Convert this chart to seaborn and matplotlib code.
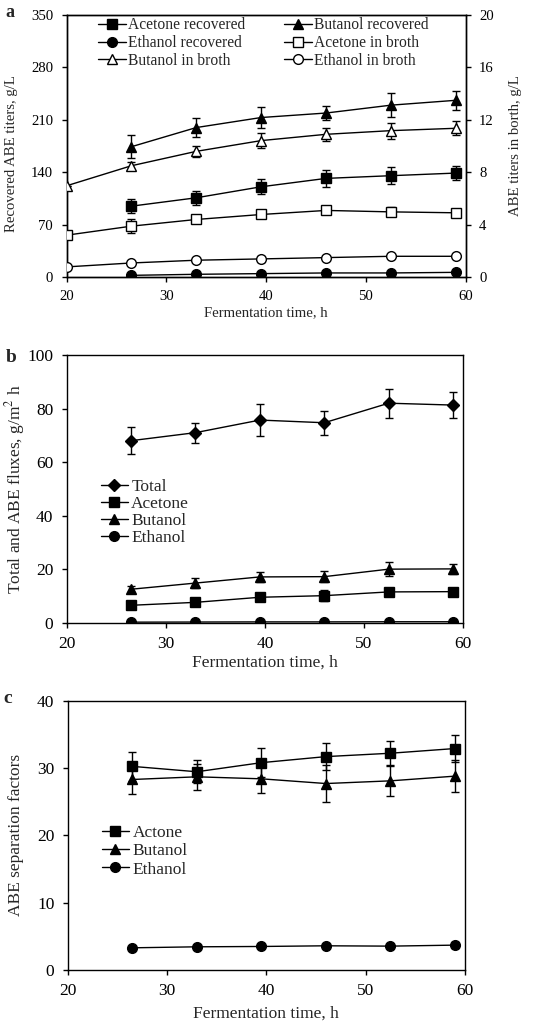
import numpy as np
import pandas as pd
import matplotlib
matplotlib.use("Agg")
import matplotlib.pyplot as plt
import seaborn as sns

sns.set_theme(style="ticks")
plt.rcParams['font.family'] = ['Liberation Serif', 'DejaVu Serif']
plt.rcParams['mathtext.fontset'] = 'stix'

# ---------------- data ----------------
time_a = [20, 26.5, 33, 39.5, 46, 52.5, 59]
time_r = [26.5, 33, 39.5, 46, 52.5, 59]

# panel a: recovered (left axis, g/L)
acetone_rec = [94.6, 105.8, 120.5, 131.7, 135.3, 138.8]
acetone_rec_err = [9.6, 9.0, 10.0, 11.6, 11.0, 9.0]
butanol_rec = [174, 199.6, 213, 219, 229.5, 236]
butanol_rec_err = [15, 13, 14.5, 9, 16, 13]
ethanol_rec = [2.2, 3.6, 4.5, 5.4, 5.4, 6.2]
ethanol_rec_err = [0.5, 0.5, 0.5, 0.5, 0.5, 0.5]
# panel a: in broth (right axis, g/L)
acetone_broth = [3.19, 3.88, 4.39, 4.77, 5.08, 4.97, 4.90]
acetone_broth_err = [0.0, 0.55, 0.15, 0.15, 0.2, 0.35, 0.15]
butanol_broth = [6.96, 8.49, 9.59, 10.41, 10.89, 11.17, 11.35]
butanol_broth_err = [0.0, 0.3, 0.42, 0.6, 0.5, 0.6, 0.55]
ethanol_broth = [0.77, 1.07, 1.28, 1.38, 1.48, 1.58, 1.58]
ethanol_broth_err = [0.0, 0.1, 0.1, 0.2, 0.1, 0.1, 0.1]

# panel b: fluxes g/m2 h
total_flux = [68.0, 71.0, 75.7, 74.7, 82.0, 81.3]
total_flux_err = [5.1, 3.7, 5.9, 4.5, 5.4, 4.9]
acetone_flux = [6.5, 7.6, 9.5, 10.1, 11.5, 11.6]
acetone_flux_err = [0.8, 1.0, 1.0, 2.0, 1.2, 1.2]
butanol_flux = [12.5, 14.8, 17.1, 17.2, 20.0, 20.1]
butanol_flux_err = [1.2, 2.0, 2.0, 2.0, 2.5, 2.0]
ethanol_flux = [0.2, 0.25, 0.3, 0.3, 0.35, 0.35]
ethanol_flux_err = [0.1, 0.1, 0.1, 0.1, 0.1, 0.1]

# panel c: separation factors
acetone_sf = [30.25, 29.45, 30.8, 31.7, 32.2, 32.9]
acetone_sf_err = [2.1, 1.7, 2.2, 2.0, 1.8, 2.0]
butanol_sf = [28.3, 28.7, 28.4, 27.7, 28.1, 28.8]
butanol_sf_err = [2.1, 1.9, 2.1, 2.7, 2.2, 2.4]
ethanol_sf = [3.3, 3.45, 3.5, 3.6, 3.55, 3.7]
ethanol_sf_err = [0.3, 0.3, 0.3, 0.3, 0.3, 0.4]

xlabel = "Fermentation time, h"
x_ticks = [20, 30, 40, 50, 60]

# ---------------- figure ----------------
fig = plt.figure(figsize=(5.48, 10.24), dpi=100)
FSA = 10.6    # panel a ticks/labels
FSAL = 11.2   # panel a legend
FS = 12.5     # panels b, c
LW = 1.0
MS = 7


def style_axes(ax, fs):
    for s in ax.spines.values():
        s.set_linewidth(1.0)
        s.set_color('black')
        s.set_visible(True)
    ax.tick_params(direction='out', length=3.6, width=1.0, labelsize=fs,
                   colors='black', pad=6)


def series(ax, x, y, err, marker, filled, label, ms=MS):
    df = pd.DataFrame({"x": x, "y": y})
    ax.errorbar(x, y, yerr=err, fmt='none', ecolor='black', elinewidth=1.0,
                capsize=3.2, capthick=1.0, zorder=2)
    sns.lineplot(data=df, x="x", y="y", ax=ax, color='black', linewidth=LW,
                 marker=marker, markersize=ms,
                 markerfacecolor='black' if filled else 'white',
                 markeredgecolor='black', markeredgewidth=1.0,
                 label=label, zorder=3, legend=False)
    return ax.lines[-1]


# ---- panel a ----
axa = fig.add_axes([0.1214, 0.7295, 0.7286, 0.2559])
axa2 = axa.twinx()
h1 = series(axa, time_r, acetone_rec, acetone_rec_err, 's', True, "Acetone recovered")
h2 = series(axa, time_r, butanol_rec, butanol_rec_err, '^', True, "Butanol recovered")
h3 = series(axa, time_r, ethanol_rec, ethanol_rec_err, 'o', True, "Ethanol recovered")
h4 = series(axa2, time_a, acetone_broth, acetone_broth_err, 's', False, "Acetone in broth")
h5 = series(axa2, time_a, butanol_broth, butanol_broth_err, '^', False, "Butanol in broth")
h6 = series(axa2, time_a, ethanol_broth, ethanol_broth_err, 'o', False, "Ethanol in broth")
axa.set_xlim(20, 60)
axa.set_ylim(0, 350)
axa.set_yticks([0, 70, 140, 210, 280, 350])
axa2.set_ylim(0, 20)
axa2.set_yticks([0, 4, 8, 12, 16, 20])
axa.set_xticks(x_ticks)
axa.set_xlabel(xlabel, fontsize=FSA)
axa.set_ylabel("Recovered ABE titers, g/L", fontsize=FSA)
axa2.set_ylabel("ABE titers in borth, g/L", fontsize=FSA)
style_axes(axa, FSA)
style_axes(axa2, FSA)
axa.xaxis.set_label_coords(0.5, -0.11)
axa.yaxis.set_label_coords(-0.122, 0.47)
axa2.yaxis.set_label_coords(1.107, 0.5)
axa.legend([h1, h3, h5, h2, h4, h6],
           ["Acetone recovered", "Ethanol recovered", "Butanol in broth",
            "Butanol recovered", "Acetone in broth", "Ethanol in broth"],
           ncol=2, frameon=False, fontsize=FSAL, loc='upper left',
           bbox_to_anchor=(0.045, 1.045), handlelength=1.8, handletextpad=0.1,
           labelspacing=0.12, columnspacing=2.5)
fig.text(0.009, 0.9834, "a", fontsize=13, fontweight='bold', va='baseline')

# ---- panel b ----
axb = fig.add_axes([0.1217, 0.3919, 0.7232, 0.2614])
g1 = series(axb, time_r, total_flux, total_flux_err, 'D', True, "Total", ms=6)
g2 = series(axb, time_r, acetone_flux, acetone_flux_err, 's', True, "Acetone")
g3 = series(axb, time_r, butanol_flux, butanol_flux_err, '^', True, "Butanol")
g4 = series(axb, time_r, ethanol_flux, ethanol_flux_err, 'o', True, "Ethanol")
axb.set_xlim(20, 60)
axb.set_ylim(0, 100)
axb.set_yticks([0, 20, 40, 60, 80, 100])
axb.set_xticks(x_ticks)
axb.set_xlabel(xlabel, fontsize=FS)
axb.set_ylabel("Total and ABE fluxes, g/m$^2$ h", fontsize=FS)
style_axes(axb, FS)
axb.xaxis.set_label_coords(0.5, -0.118)
axb.yaxis.set_label_coords(-0.101, 0.5)
axb.legend([g1, g2, g3, g4], ["Total", "Acetone", "Butanol", "Ethanol"],
           frameon=False, fontsize=FS, loc='upper left',
           bbox_to_anchor=(0.047, 0.595), handlelength=1.55, handletextpad=0.2,
           labelspacing=0.05)
fig.text(0.011, 0.6465, "b", fontsize=14, fontweight='bold', va='baseline')

# ---- panel c ----
axc = fig.add_axes([0.1235, 0.0527, 0.725, 0.263])
k1 = series(axc, time_r, acetone_sf, acetone_sf_err, 's', True, "Actone")
k2 = series(axc, time_r, butanol_sf, butanol_sf_err, '^', True, "Butanol")
k3 = series(axc, time_r, ethanol_sf, ethanol_sf_err, 'o', True, "Ethanol")
axc.set_xlim(20, 60)
axc.set_ylim(0, 40)
axc.set_yticks([0, 10, 20, 30, 40])
axc.set_xticks(x_ticks)
axc.set_xlabel(xlabel, fontsize=FS)
axc.set_ylabel("ABE separation factors", fontsize=FS)
style_axes(axc, FS)
axc.xaxis.set_label_coords(0.5, -0.132)
axc.yaxis.set_label_coords(-0.110, 0.5)
axc.legend([k1, k2, k3], ["Actone", "Butanol", "Ethanol"],
           frameon=False, fontsize=FS, loc='upper left',
           bbox_to_anchor=(0.047, 0.597), handlelength=1.55, handletextpad=0.2,
           labelspacing=0.12)
fig.text(0.007, 0.3135, "c", fontsize=14, fontweight='bold', va='baseline')

fig.savefig("out.png", dpi=100, facecolor='white')
